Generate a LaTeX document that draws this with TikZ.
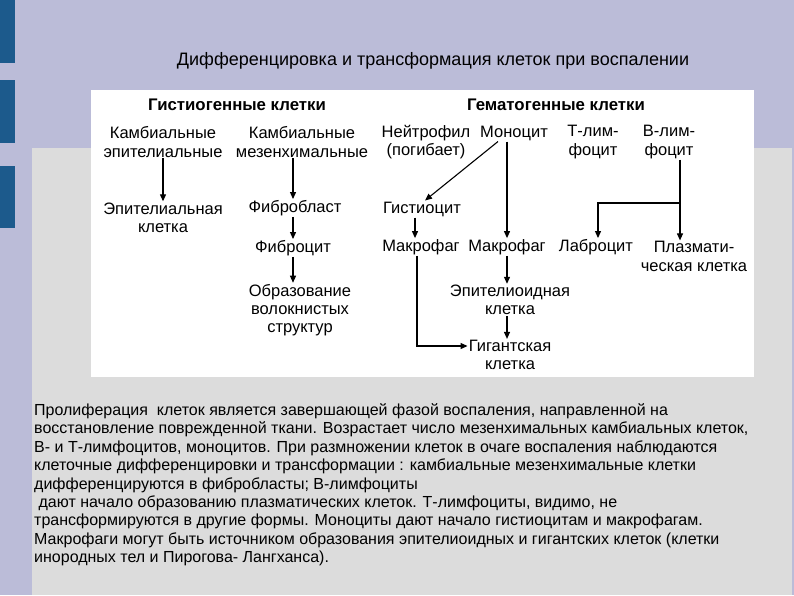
\documentclass[tikz,border=0pt]{standalone}
\usepackage{fontspec}
\setmainfont{Liberation Sans}
\usetikzlibrary{arrows.meta,calc}
\definecolor{lav}{RGB}{187,188,216}
\definecolor{pgray}{RGB}{220,220,220}
\definecolor{barblue}{RGB}{28,90,140}
\begin{document}
\begin{tikzpicture}[x=1pt,y=-1pt,
  lbl/.style={font=\fontsize{16.5}{18.3}\selectfont, align=center, inner sep=1pt},
  hdr/.style={font=\fontsize{16.8}{18}\selectfont\bfseries, inner sep=1pt},
  para/.style={font=\fontsize{16}{18}\selectfont, anchor=base west, inner sep=0pt},
  arr/.style={line width=1.1pt, -{Triangle[length=7pt,width=6pt]}},
  ln/.style={line width=1.1pt}]
\useasboundingbox (0,0) rectangle (794,595);
\fill[lav] (0,0) rectangle (794,595);
\fill[barblue] (0,0) rectangle (15,63);
\fill[barblue] (0,80) rectangle (15,143);
\fill[barblue] (0,166) rectangle (15,228);
\fill[pgray] (32,148) rectangle (792,595);
\fill[white] (91,90) rectangle (754,377);
\node[font=\fontsize{18}{20}\selectfont, inner sep=0pt] (title) at (433,61) {Дифференцировка и трансформация клеток при воспалении};
% headers
\node[hdr] (hhist) at (237,105) {Гистиогенные клетки};
\node[hdr] (hhem) at (556,105) {Гематогенные клетки};
% nodes
\node[lbl] (kep) at (163,142) {Камбиальные\\эпителиальные};
\node[lbl] (kmz) at (302,142) {Камбиальные\\мезенхимальные};
\node[lbl] (neu) at (426,142) {Нейтрофил\\(погибает)};
\node[lbl] (mono) at (514,133) {Моноцит};
\node[lbl] (tly) at (593,142) {Т-лим-\\фоцит};
\node[lbl] (bly) at (669,142) {В-лим-\\фоцит};
\node[lbl] (epi) at (163,217.5) {Эпителиальная\\клетка};
\node[lbl] (fib) at (295,208) {Фибробласт};
\node[lbl] (his) at (422,209) {Гистиоцит};
\node[lbl] (fcy) at (293,248) {Фиброцит};
\node[lbl] (mak1) at (421,247) {Макрофаг};
\node[lbl] (mak2) at (507,247) {Макрофаг};
\node[lbl] (lab) at (596,247) {Лаброцит};
\node[lbl] (pla) at (694,256.5) {Плазмати-\\ческая клетка};
\node[lbl] (obr) at (300,310) {Образование\\волокнистых\\структур};
\node[lbl] (epd) at (510,300) {Эпителиоидная\\клетка};
\node[lbl] (gig) at (510,355) {Гигантская\\клетка};
% arrows
\draw[arr] (kep.south) -- (epi.north);
\draw[arr] ($(fib.north |- kmz.south)+(-2,0)$) -- ($(fib.north)+(-2,0)$);
\draw[arr] ($(fib.south)+(-2,0)$) -- ($(fib.south |- fcy.north)+(-2,0)$);
\draw[arr] (fcy.south) -- (fcy.south |- obr.north);
\draw[arr] ($(mono.south)+(-16,0)$) -- ($(his.north)+(3,0)$);
\draw[arr] (mak2.north |- mono.south) -- (mak2.north);
\draw[arr] ($(his.south)+(-7,0)$) -- ($(his.south |- mak1.north)+(-7,0)$);
\draw[arr] ($(bly.south)+(11,0)$) -- ($(bly.south |- pla.north)+(11,0)$);
\coordinate (br) at ($(bly.south)+(11,0)$);
\draw[arr] (br |- 0,203) -| ($(lab.north)+(2,0)$);
\draw[arr] (mak2.south) -- (mak2.south |- epd.north);
\draw[arr] (epd.south -| mak2.south) -- (mak2.south |- gig.north);
\draw[arr] ($(mak1.south)+(-4,0)$) |- ($(gig.west)+(0,-9)$);
% paragraph
\node[para] (p1) at (34,415.5) {Пролиферация\ \ клеток является завершающей фазой воспаления, направленной на};
\node[para] (p2) at (34,433.9) {восстановление поврежденной ткани. Возрастает число мезенхимальных камбиальных клеток,};
\node[para] (p3) at (34,452.3) {В- и Т-лимфоцитов, моноцитов. При размножении клеток в очаге воспаления наблюдаются};
\node[para] (p4) at (34,470.7) {клеточные дифференцировки и трансформации : камбиальные мезенхимальные клетки};
\node[para] (p5) at (34,489.1) {дифференцируются в фибробласты; В-лимфоциты};
\node[para] (p6) at (34,507.5) {\ дают начало образованию плазматических клеток. Т-лимфоциты, видимо, не};
\node[para] (p7) at (34,525.9) {трансформируются в другие формы. Моноциты дают начало гистиоцитам и макрофагам.};
\node[para] (p8) at (34,544.3) {Макрофаги могут быть источником образования эпителиоидных и гигантских клеток (клетки};
\node[para] (p9) at (34,562.7) {инородных тел и Пирогова- Лангханса).};
\end{tikzpicture}
\end{document}
